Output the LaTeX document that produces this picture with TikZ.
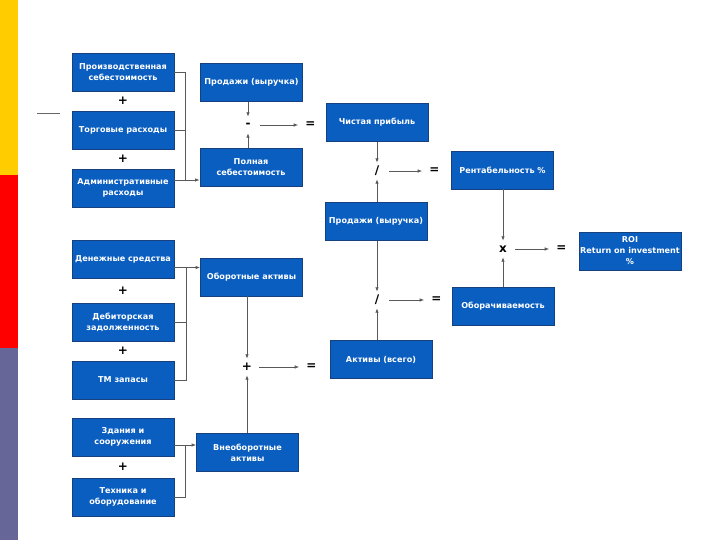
\documentclass[tikz,border=0pt]{standalone}
\usepackage{fontspec}
\setmainfont{DejaVu Sans}
\usetikzlibrary{arrows.meta, positioning, calc}
\definecolor{boxblue}{HTML}{0A5EC0}
\definecolor{boxedge}{HTML}{16407E}
\definecolor{barYellow}{HTML}{FFCC00}
\definecolor{barRed}{HTML}{FF0000}
\definecolor{barSlate}{HTML}{666699}

\begin{document}
\begin{tikzpicture}[
    x=1pt, y=-1pt,
    >={Latex[length=4.5pt,width=3.5pt]},
    box/.style={draw=boxedge, line width=0.8pt, fill=boxblue, minimum width=102pt, minimum height=38pt, align=center, text=white, inner sep=1pt, font=\fontsize{8.1}{11}\selectfont\bfseries},
    op/.style={minimum width=24pt, minimum height=16pt, inner sep=0pt, font=\fontsize{12}{12}\selectfont\bfseries},
    plus/.style={inner sep=0pt, font=\fontsize{12}{12}\selectfont\bfseries},
    arrow/.style={->, line width=0.8pt, draw=black!65},
    link/.style={line width=0.8pt, draw=black!65},
  ]
  \useasboundingbox (0,0) rectangle (720,540);
  % side bar
  \fill[barYellow] (0,0) rectangle (18,175);
  \fill[barRed] (0,175) rectangle (18,348);
  \fill[barSlate] (0,348) rectangle (18,540);
  \draw[black!60, line width=1pt] (37,114) -- (60,114);
  % costs
  \node[box] (prod) at (123,72) {Производственная\\себестоимость};
  \node[box] (trade) at (123,130) {Торговые расходы};
  \node[box] (adm) at (123,188) {Административные\\расходы};
  \node[plus] (plusA) at ($(prod.south)!0.5!(trade.north)$) {+};
  \node[plus] (plusB) at ($(trade.south)!0.5!(adm.north)$) {+};
  \node[box] (sales1) at (251.5,82.5) {Продажи (выручка)};
  \node[box] (full) at (251,167) {Полная\\себестоимость};
  \draw[link] (prod.east) -- ++(11,0) |- ([yshift=8pt]adm.east);
  \draw[link] (trade.east) -- ++(11,0);
  \draw[arrow] ([yshift=8pt]adm.east) -- ([yshift=8pt]adm.east -| full.west);
  % net profit
  \node[op] (minus) at (248,125) {-};
  \node[op, right=38pt of minus] (eqA) {=};
  \draw[arrow] (sales1.south -| minus) -- (minus);
  \draw[arrow] (full.north -| minus) -- (minus);
  \draw[arrow] (minus) -- (eqA);
  \node[box] (net) at (377,122.5) {Чистая прибыль};
  \node[box] (sales2) at (376,221.5) {Продажи (выручка)};
  \node[op] (divA) at (377,171) {/};
  \node[op, right=33pt of divA] (eqB) {=};
  \draw[arrow] (net) -- (divA);
  \draw[arrow] (sales2.north -| divA) -- (divA);
  \draw[arrow] (divA) -- (eqB);
  \node[box] (rent) at (502.5,170) {Рентабельность \%};
  % ROI
  \node[op] (times) at (503,249) {x};
  \node[op, right=34pt of times] (eqC) {=};
  \node[box] (roi) at (630,251) {ROI\\Return on investment\\\%};
  \node[box] (turn) at (503,306.5) {Оборачиваемость};
  \draw[arrow] (rent.south -| times) -- (times);
  \draw[arrow] (turn.north -| times) -- (times);
  \draw[arrow] (times) -- (eqC);
  % turnover
  \node[op] (divB) at (377,300) {/};
  \node[op, right=35pt of divB] (eqD) {=};
  \node[box] (assets) at (381,359.5) {Активы (всего)};
  \draw[arrow] (sales2.south -| divB) -- (divB);
  \draw[arrow] (assets.north -| divB) -- (divB);
  \draw[arrow] (divB) -- (eqD);
  % current assets
  \node[box] (cash) at (123,259.5) {Денежные средства};
  \node[box] (recv) at (123,322) {Дебиторская\\задолженность};
  \node[box] (stock) at (123,380) {ТМ запасы};
  \node[plus] (plusC) at ($(cash.south)!0.5!(recv.north)$) {+};
  \node[plus] (plusD) at ($(recv.south)!0.5!(stock.north)$) {+};
  \node[box] (curr) at (251.5,277) {Оборотные активы};
  \draw[arrow] ([yshift=-8pt]cash.east) -- ([yshift=-8pt]cash.east -| curr.west);
  \draw[link] ([yshift=-8pt]cash.east) ++(12,0) |- (stock.east);
  \draw[link] (recv.east) -- ++(12,0);
  % non-current assets
  \node[box] (bld) at (123,437) {Здания и\\сооружения};
  \node[box] (mach) at (123,497) {Техника и\\оборудование};
  \node[plus] (plusE) at ($(bld.south)!0.5!(mach.north)$) {+};
  \node[box] (noncurr) at (247.5,452.5) {Внеоборотные\\активы};
  \draw[arrow] ([yshift=-8pt]bld.east) -- ([yshift=-8pt]bld.east -| noncurr.west);
  \draw[link] ([yshift=-8pt]bld.east) ++(11,0) |- (mach.east);
  % total assets
  \node[op] (plusF) at (247,367) {+};
  \node[op, right=40pt of plusF] (eqE) {=};
  \draw[arrow] (curr.south -| plusF) -- (plusF);
  \draw[arrow] (noncurr.north -| plusF) -- (plusF);
  \draw[arrow] (plusF) -- (eqE);
\end{tikzpicture}
\end{document}
